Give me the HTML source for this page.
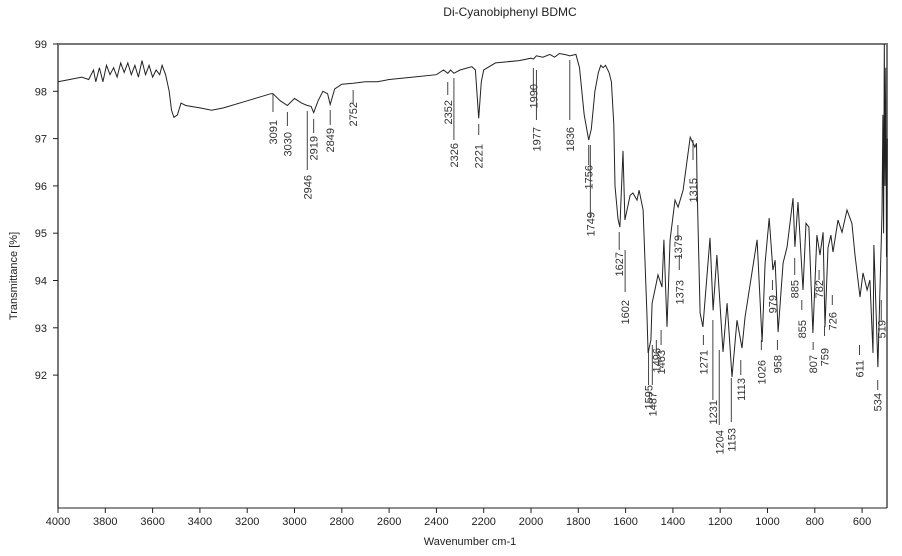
<!DOCTYPE html>
<html><head><meta charset="utf-8">
<style>
html,body{margin:0;padding:0;background:#fff;}
svg{display:block;font-family:"Liberation Sans",sans-serif;}
</style></head>
<body>
<svg id="chart" width="902" height="556">
<text x="510" y="16" font-size="12" text-anchor="middle" fill="#222">Di-Cyanobiphenyl BDMC</text>
<text x="0" y="0" font-size="11" text-anchor="middle" fill="#222" transform="translate(17,276) rotate(-90)">Transmittance [%]</text>
<text x="470" y="545" font-size="11" text-anchor="middle" fill="#222">Wavenumber cm-1</text>
<g id="axes"></g>
<g id="labels"></g>
<path id="spec" fill="none" stroke="#222" stroke-width="1"></path>
</svg>
<script>
const wn=[4000,3950,3900,3870,3850,3840,3825,3810,3795,3780,3765,3750,3735,3720,3705,3690,3675,3660,3645,3630,3615,3600,3585,3570,3560,3545,3530,3520,3510,3495,3480,3460,3400,3350,3300,3200,3100,3091,3060,3030,3000,2970,2946,2930,2919,2900,2880,2860,2849,2830,2800,2752,2700,2650,2600,2500,2400,2370,2352,2340,2326,2300,2250,2235,2221,2210,2200,2150,2050,2000,1990,1977,1950,1920,1900,1880,1850,1836,1810,1795,1775,1756,1745,1730,1715,1705,1695,1685,1670,1660,1650,1645,1632,1624,1611,1603,1581,1569,1552,1543,1526,1510,1505,1493,1488,1476,1463,1446,1438,1425,1412,1391,1378,1357,1327,1307,1300,1298,1285,1273,1243,1230,1214,1188,1171,1150,1129,1108,1095,1066,1044,1023,1010,993,977,968,955,934,917,892,884,871,850,837,825,808,791,778,765,757,744,732,723,702,685,664,643,630,609,596,579,567,554,550,533,516,512,509,506,503,500,497,494];
const tr=[98.2,98.25,98.3,98.25,98.45,98.2,98.5,98.2,98.55,98.35,98.5,98.3,98.6,98.4,98.6,98.35,98.55,98.3,98.65,98.35,98.55,98.3,98.45,98.35,98.55,98.35,98.0,97.6,97.45,97.5,97.75,97.7,97.65,97.6,97.65,97.8,97.95,97.95,97.8,97.7,97.85,97.75,97.7,97.68,97.55,97.8,98.0,97.95,97.72,98.05,98.15,98.17,98.2,98.2,98.25,98.3,98.35,98.45,98.38,98.45,98.38,98.45,98.52,98.45,97.43,98.2,98.45,98.6,98.65,98.7,98.68,98.75,98.72,98.78,98.72,98.8,98.77,98.75,98.78,98.5,97.5,96.97,97.2,98.0,98.4,98.55,98.5,98.55,98.4,98.2,97.3,96.0,95.3,95.13,96.74,95.28,95.8,95.85,95.7,95.91,95.49,93.31,92.47,92.74,93.52,93.8,94.12,93.86,94.86,93.02,94.86,95.7,95.55,95.91,97.03,96.82,96.9,96.1,93.31,93.02,94.9,93.37,94.54,92.49,93.52,91.96,93.16,92.57,93.22,94.16,94.86,92.7,94.37,95.32,94.22,94.43,92.91,94.37,94.71,95.74,94.71,95.66,93.8,95.21,95.13,92.89,94.96,94.54,95.02,93.02,94.69,94.96,94.6,95.28,95.02,95.49,95.21,94.54,93.65,94.16,93.8,94.01,92.47,94.75,92.17,95.43,97.5,95.0,99.0,96.0,98.5,94.5,97.0,95.0];
const xTicks=[4000,3800,3600,3400,3200,3000,2800,2600,2400,2200,2000,1800,1600,1400,1200,1000,800,600];
const yTicks=[99,98,97,96,95,94,93,92];
const peakLabels=["3091","3030","2946","2919","2849","2752","2352","2326","2221","1990","1977","1836","1756","1749","1627","1602","1595","1487","1496","1463","1379","1373","1315","1271","1231","1204","1153","1113","1026","979","958","885","855","807","782","759","726","611","534","519"];
const peakPos=[3091,3030,2946,2919,2849,2752,2352,2326,2221,1990,1977,1836,1756,1749,1627,1602,1503,1487,1470,1450,1379,1373,1315,1271,1231,1204,1153,1113,1026,979,958,885,855,807,782,759,726,611,534,519];
const peakLines=[[94,112],[112,126],[111,170],[119,133],[110,125],[90,104],[82,95],[78,140],[124,135],[68,92],[70,120],[60,120],[145,165],[145,218],[232,250],[250,292],[350,385],[345,385],[340,352],[330,345],[225,240],[255,270],[140,160],[335,345],[320,400],[350,425],[378,422],[360,375],[340,350],[280,290],[340,350],[258,275],[300,310],[342,350],[270,280],[326,336],[295,305],[345,355],[380,390],[300,320]];
const peakTextTop=[120,132,175,136,128,102,100,143,144,84,127,127,165,212,252,300,385,392,348,350,235,280,178,350,400,430,428,378,360,295,355,280,320,355,280,348,312,360,393,320];
const X=w=>58+(4000-w)*0.2365, Y=t=>44+(99-t)*47.3;
const NS="http://www.w3.org/2000/svg";
const ax=document.getElementById('axes'), lb=document.getElementById('labels');
function mk(p,tag,attrs){const e=document.createElementNS(NS,tag);for(const k in attrs)e.setAttribute(k,attrs[k]);p.appendChild(e);return e;}
const frame=mk(ax,'path',{d:'M58,508 L58,44 L887,44 L887,508',fill:'none',stroke:'#777','stroke-width':2});


const xa=mk(ax,'line',{x1:58,y1:508,x2:887,y2:508,stroke:'#222','stroke-width':1});


xTicks.forEach(v=>{
  mk(ax,'line',{x1:X(v),y1:508,x2:X(v),y2:513,stroke:'#222'});
  const t=mk(ax,'text',{x:X(v),y:525,'font-size':11,'text-anchor':'middle',fill:'#222'});t.textContent=v;
  
  
});
yTicks.forEach(v=>{
  mk(ax,'line',{x1:53,y1:Y(v),x2:58,y2:Y(v),stroke:'#222'});
  const t=mk(ax,'text',{x:47,y:Y(v)+4,'font-size':11,'text-anchor':'end',fill:'#222'});t.textContent=v;
  
  
});
peakLabels.forEach((s,i)=>{
  const x=X(peakPos[i]);
  mk(lb,'line',{x1:x,y1:peakLines[i][0],x2:x,y2:peakLines[i][1],stroke:'#444','stroke-width':1});
  const t=mk(lb,'text',{x:0,y:0,'font-size':11,'text-anchor':'end',fill:'#333',transform:`translate(${x+4},${peakTextTop[i]}) rotate(-90)`});
  t.textContent=s;
  
  
});
let d='';
wn.forEach((w,i)=>{d+=(i?'L':'M')+X(w).toFixed(1)+','+Y(tr[i]).toFixed(1);});
document.getElementById('spec').setAttribute('d',d);
</script>
</body></html>
